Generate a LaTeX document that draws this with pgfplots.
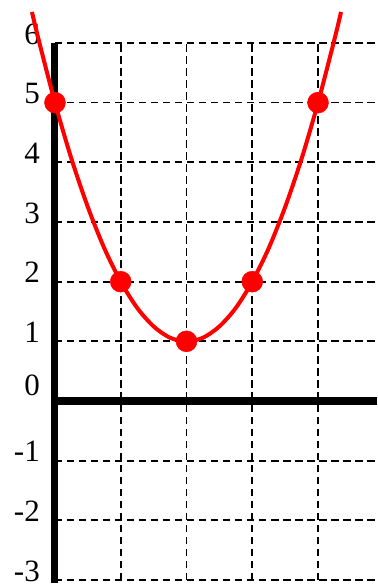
\documentclass[border=0pt]{standalone}
\usepackage{fontspec}
\setmainfont{Liberation Serif}
\usepackage{pgfplots}
\pgfplotsset{compat=1.18}

\begin{document}
\begin{tikzpicture}
\begin{axis}[
  scale only axis,
  width=322pt, height=537pt,
  xmin=0, xmax=4.897,
  ymin=-3, ymax=6,
  clip=false,
  axis line style={draw=none},
  tick style={draw=none},
  xtick={1,2,3,4},
  xticklabels={},
  ytick={-3,-2,-1,0,1,2,3,4,5,6},
  yticklabels={-3,-2,-1,\raisebox{14pt}{0},1,2,3,4,5,6},
  /pgf/number format/assume math mode=true,
  yticklabel style={font=\fontsize{31}{31}\selectfont, inner sep=0pt, xshift=-15pt, yshift=9pt},
  grid=major,
  major grid style={black, line width=1.7pt, dash pattern=on 7.5pt off 4.5pt},
]
  % coordinate axes
  \draw[line width=7pt] (axis cs:0,6) -- (axis cs:0,-3.05);
  \draw[line width=7.5pt] (axis cs:0,0) -- (axis cs:4.897,0);

  % parabola through the marked points
  \addplot[red, line width=4pt, smooth] coordinates {
    (-0.35,6.52) (-0.25,6.06) (0,5) (0.25,4.06) (0.5,3.25) (0.75,2.56)
    (1,2) (1.25,1.56) (1.5,1.25) (1.75,1.06) (2,1) (2.25,1.06) (2.5,1.25)
    (2.75,1.56) (3,2) (3.25,2.56) (3.5,3.25) (3.75,4.06) (4,5) (4.25,6.06)
    (4.35,6.52)
  };
  \addplot[only marks, mark=*, mark size=10.5pt, red, mark options={fill=red, draw=red}]
    coordinates {(0,5) (1,2) (2,1) (3,2) (4,5)};

  \coordinate (bbA) at (axis cs:-0.836,6.72);
  \coordinate (bbB) at (axis cs:4.897,-3.117);
\end{axis}
\pgfresetboundingbox
\path[use as bounding box] (bbA) rectangle (bbB);
\end{tikzpicture}
\end{document}
